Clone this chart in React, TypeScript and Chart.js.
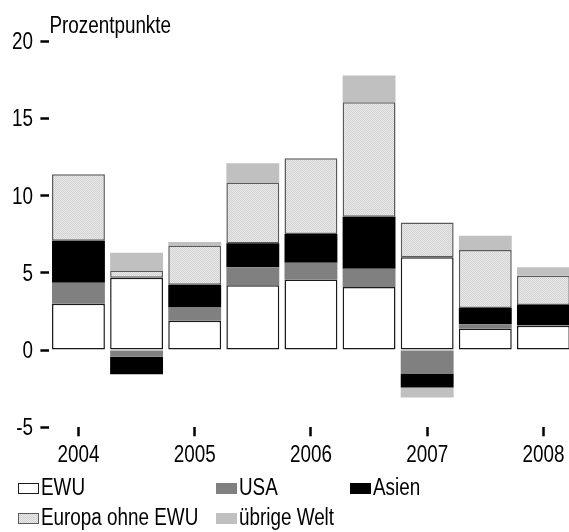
import React, { useEffect, useRef } from "react";
import { Chart, registerables } from "chart.js";

Chart.register(...registerables);

// ---- data ----
const categories = ["2004", "", "2005", "", "2006", "", "2007", "", "2008"];
const seriesNames = ["EWU", "USA", "Asien", "Europa ohne EWU", "übrige Welt"];
const ewu = [3.0, 4.68, 1.89, 4.19, 4.57, 4.08, 6.01, 1.4, 1.57];
const usa = [1.35, -0.43, 0.86, 1.17, 1.08, 1.18, -1.55, 0.27, 0.05];
const asien = [2.73, -1.14, 1.48, 1.55, 1.86, 3.37, -0.88, 1.05, 1.3];
const europa = [4.3, 0.47, 2.53, 3.93, 4.9, 7.4, 2.25, 3.76, 1.89];
const uebrige = [0, 1.14, 0.24, 1.25, 0, 1.74, -0.64, 0.92, 0.54];
const yTickValues = [-5, 0, 5, 10, 15, 20];
const unitLabel = "Prozentpunkte";

const FONT = '"Liberation Sans", Arial, sans-serif';
const FONT_SIZE = 23;
const NARROW = 0.82;

function makePattern(): CanvasPattern | string {
  const c = document.createElement("canvas");
  c.width = 2;
  c.height = 2;
  const x = c.getContext("2d");
  if (!x) return "#dcdcdc";
  x.fillStyle = "#e9e9e9";
  x.fillRect(0, 0, 2, 2);
  x.fillStyle = "#d2d2d2";
  x.fillRect(0, 0, 1, 1);
  x.fillRect(1, 1, 1, 1);
  return x.createPattern(c, "repeat") || "#dcdcdc";
}

function narrowText(
  ctx: CanvasRenderingContext2D,
  text: string,
  x: number,
  y: number,
  align: CanvasTextAlign
) {
  ctx.save();
  ctx.translate(x, y);
  ctx.scale(NARROW, 1);
  ctx.font = `${FONT_SIZE}px ${FONT}`;
  ctx.fillStyle = "#000";
  ctx.textAlign = align;
  ctx.textBaseline = "alphabetic";
  ctx.fillText(text, 0, 0);
  ctx.restore();
}

const overlayPlugin = {
  id: "overlay",
  afterDraw(chart: any) {
    const ctx = chart.ctx as CanvasRenderingContext2D;
    const xs = chart.scales.x;
    const ys = chart.scales.y;

    // unit label
    narrowText(ctx, unitLabel, chart.chartArea.left, 33, "left");

    // y tick labels
    ys.ticks.forEach((t: any) => {
      const y = ys.getPixelForValue(t.value);
      narrowText(ctx, String(t.value), ys.right - 16.4, y + 8, "right");
    });

    // x tick labels
    categories.forEach((lab, i) => {
      if (!lab) return;
      const x = xs.getPixelForTick(i);
      narrowText(ctx, lab, x, xs.top + 35, "center");
    });

    // legend
    const cols = [18, 216, 350];
    const rows = [495, 525];
    const slots = [
      [0, 0],
      [1, 0],
      [2, 0],
      [0, 1],
      [1, 1],
    ];
    chart.data.datasets.forEach((ds: any, i: number) => {
      const [c, r] = slots[i];
      const x = cols[c];
      const base = rows[r];
      const bw = 21;
      const bh = 11;
      const by = base - 1 - bh;
      ctx.save();
      ctx.fillStyle = ds.backgroundColor;
      ctx.fillRect(x, by, bw, bh);
      if (ds.borderWidth) {
        ctx.strokeStyle = ds.borderColor;
        ctx.lineWidth = 1;
        ctx.strokeRect(x + 0.5, by + 0.5, bw - 1, bh - 1);
      }
      ctx.restore();
      narrowText(ctx, ds.label, x + bw + 2, base, "left");
    });
  },
};

export default function App() {
  const ref = useRef<HTMLCanvasElement | null>(null);

  useEffect(() => {
    if (!ref.current) return;
    const pattern = makePattern();
    const common = { borderSkipped: false as const, barPercentage: 0.91, categoryPercentage: 1 };
    const chart = new Chart(ref.current, {
      type: "bar",
      data: {
        labels: categories,
        datasets: [
          { label: seriesNames[0], data: ewu, backgroundColor: "#ffffff", borderColor: "#1a1a1a", borderWidth: 1.5, ...common },
          { label: seriesNames[1], data: usa, backgroundColor: "#808080", borderWidth: 0, ...common },
          { label: seriesNames[2], data: asien, backgroundColor: "#000000", borderWidth: 0, ...common },
          { label: seriesNames[3], data: europa, backgroundColor: pattern as any, borderColor: "#5a5a5a", borderWidth: 1.5, ...common },
          { label: seriesNames[4], data: uebrige, backgroundColor: "#c0c0c0", borderWidth: 0, ...common },
        ],
      },
      options: {
        animation: false,
        responsive: true,
        maintainAspectRatio: false,
        layout: { padding: { top: 41, bottom: 60, left: 0, right: 0 } },
        plugins: { legend: { display: false }, tooltip: { enabled: false } },
        scales: {
          x: {
            stacked: true,
            afterFit: (s: any) => {
              s.height = 44.7;
            },
            border: { display: false },
            grid: {
              display: true,
              drawOnChartArea: false,
              offset: false,
              tickLength: 9,
              tickWidth: 2.5,
              tickColor: (c: any) => (categories[c.index] ? "#000" : "rgba(0,0,0,0)"),
            },
            ticks: {
              autoSkip: false,
              maxRotation: 0,
              padding: 5,
              color: "rgba(0,0,0,0)",
              font: { family: FONT, size: FONT_SIZE },
            },
          },
          y: {
            stacked: true,
            min: -5,
            max: 20,
            afterFit: (s: any) => {
              s.width = 49.4;
            },
            afterBuildTicks: (s: any) => {
              s.ticks = yTickValues.map((v) => ({ value: v }));
            },
            border: { display: false },
            grid: {
              display: true,
              drawOnChartArea: false,
              tickLength: 9,
              tickWidth: 2.5,
              tickColor: "#000",
            },
            ticks: {
              padding: 7,
              color: "rgba(0,0,0,0)",
              font: { family: FONT, size: FONT_SIZE },
              callback: (v: any) => String(v),
            },
          },
        },
      },
      plugins: [overlayPlugin],
    });
    return () => chart.destroy();
  }, []);

  return (
    <div style={{ position: "absolute", left: 0, top: 0, width: 569, height: 532, overflow: "hidden", background: "#fff" }}>
      <div style={{ position: "relative", width: 574, height: 532 }}>
        <canvas ref={ref} />
      </div>
    </div>
  );
}
